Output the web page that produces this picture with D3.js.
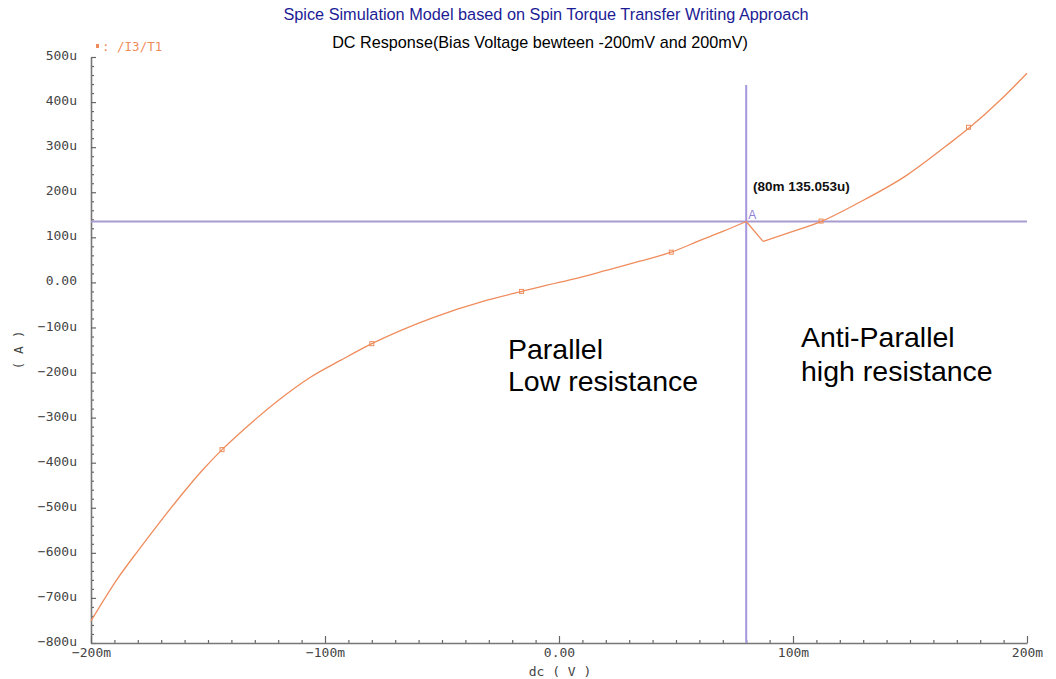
<!DOCTYPE html>
<html>
<head>
<meta charset="utf-8">
<script src="https://cdn.jsdelivr.net/npm/d3@7"></script>
<style>
  html, body { margin: 0; padding: 0; background: #fff; }
  svg { display: block; }
</style>
</head>
<body>
<svg id="chart" width="1056" height="679"></svg>
<script>
// ---- data ----
const voltage = [-0.200, -0.1885, -0.180, -0.1718, -0.1611, -0.1526, -0.144, -0.1342, -0.120, -0.1064, -0.093, -0.080, -0.0538, -0.0325, -0.0158, 0.000, 0.006, 0.0205, 0.0346, 0.0479, 0.0603, 0.070, 0.080, 0.0872, 0.0987, 0.1124, 0.1278, 0.1487, 0.1658, 0.1756, 0.1885, 0.200];
const currentU = [-751, -656, -596, -540, -470, -418, -371, -324, -262, -211, -172, -136, -78, -42, -20, 0, 7, 27, 47, 67, 93, 113, 135.053, 91, 111, 136, 176, 238, 304, 344, 404, 464];
const markerV = [-0.144, -0.080, -0.016, 0.048, 0.112, 0.175];
const markerIU = [-371, -136, -20, 67, 136, 344];
const yTicksU = [500, 400, 300, 200, 100, 0, -100, -200, -300, -400, -500, -600, -700, -800];
const yTickLabels = ["500u", "400u", "300u", "200u", "100u", "0.00", "\u2212100u", "\u2212200u", "\u2212300u", "\u2212400u", "\u2212500u", "\u2212600u", "\u2212700u", "\u2212800u"];
const xTicks = [-0.2, -0.1, 0, 0.1, 0.2];
const xTickLabels = ["\u2212200m", "\u2212100m", "0.00", "100m", "200m"];
const cursorV = 0.080, cursorIU = 135.053;
const cursorLabel = "(80m 135.053u)";
const title = "Spice Simulation Model based on Spin Torque Transfer Writing Approach";
const subtitle = "DC Response(Bias Voltage bewteen -200mV and 200mV)";
const legendLabel = "/I3/T1";

// ---- layout ----
const svg = d3.select("#chart");
const x = d3.scaleLinear().domain([-0.2, 0.2]).range([91, 1027]);
const y = d3.scaleLinear().domain([-800, 500]).range([643, 57]);
const monoFont = "'DejaVu Sans Mono', monospace";
const sansFont = "'Liberation Sans', Arial, sans-serif";
const curveColor = "#ef8c5c";

// titles
svg.append("text").attr("x", 546).attr("y", 20).attr("text-anchor", "middle")
  .attr("font-family", sansFont).attr("font-size", 16.3).attr("fill", "#1c1c96").text(title);
svg.append("text").attr("x", 540).attr("y", 48).attr("text-anchor", "middle")
  .attr("font-family", sansFont).attr("font-size", 16.2).attr("fill", "#000").text(subtitle);

// legend
svg.append("rect").attr("x", 96).attr("y", 44).attr("width", 3).attr("height", 4).attr("fill", curveColor);
svg.append("text").attr("x", 102).attr("y", 51).attr("font-family", monoFont).attr("font-size", 12.5)
  .attr("fill", curveColor).text(": " + legendLabel);

// minor ticks
const yMinor = d3.range(-800, 501, 20).filter(v => v % 100 !== 0);
const xMinor = d3.range(-20, 21, 1).map(k => k / 100).filter((v, i) => (i % 10) !== 0);

const gyMinor = svg.append("g").attr("transform", "translate(91,0)")
  .call(d3.axisLeft(y).tickValues(yMinor).tickSizeInner(-3).tickSizeOuter(0).tickFormat(""));
gyMinor.select(".domain").remove();
const gxMinor = svg.append("g").attr("transform", "translate(0,643)")
  .call(d3.axisBottom(x).tickValues(xMinor).tickSizeInner(-3).tickSizeOuter(0).tickFormat(""));
gxMinor.select(".domain").remove();

// major axes
const gy = svg.append("g").attr("transform", "translate(91,0)")
  .call(d3.axisLeft(y).tickValues(yTicksU).tickSizeInner(-5).tickSizeOuter(0).tickPadding(14)
    .tickFormat((d, i) => yTickLabels[i]));
const gx = svg.append("g").attr("transform", "translate(0,643)")
  .call(d3.axisBottom(x).tickValues(xTicks).tickSizeInner(-7).tickSizeOuter(0).tickPadding(5)
    .tickFormat((d, i) => xTickLabels[i]));

[gy, gx, gyMinor, gxMinor].forEach(g => {
  g.selectAll("line").attr("stroke", "#666").attr("stroke-width", 1.2);
  g.selectAll(".domain").attr("stroke", "#777").attr("stroke-width", 1.6);
  g.selectAll("text").attr("font-family", monoFont).attr("font-size", 13).attr("fill", "#444");
});
gy.selectAll("text").attr("dy", "0.2em");

// axis titles
svg.append("text").attr("transform", "translate(23,350) rotate(-90)").attr("text-anchor", "middle")
  .attr("font-family", monoFont).attr("font-size", 13).attr("fill", "#444").text("( A )");
svg.append("text").attr("x", 560).attr("y", 676).attr("text-anchor", "middle")
  .attr("font-family", monoFont).attr("font-size", 13).attr("fill", "#444").text("dc ( V )");

// cursor lines
const cursorColor = "#a797dc";
svg.append("line").attr("x1", x(-0.2)).attr("x2", x(0.2)).attr("y1", y(cursorIU)).attr("y2", y(cursorIU))
  .attr("stroke", "#a99bcf").attr("stroke-width", 2);
svg.append("line").attr("x1", x(cursorV)).attr("x2", x(cursorV)).attr("y1", 85).attr("y2", y(-800))
  .attr("stroke", cursorColor).attr("stroke-width", 2);

// curve: smooth branches, sharp switching transition
const pts = voltage.map((v, i) => [v, currentU[i]]);
const iA = voltage.indexOf(cursorV);
const segments = [
  { d: pts.slice(0, iA + 1), c: d3.curveMonotoneX },
  { d: pts.slice(iA, iA + 2), c: d3.curveLinear },
  { d: pts.slice(iA + 1), c: d3.curveMonotoneX }
];
segments.forEach(s => {
  svg.append("path").datum(s.d)
    .attr("d", d3.line().x(d => x(d[0])).y(d => y(d[1])).curve(s.c))
    .attr("fill", "none").attr("stroke", curveColor).attr("stroke-width", 1.3)
    .attr("stroke-linejoin", "miter");
});

// markers
svg.selectAll("rect.mk").data(markerV).enter().append("rect").attr("class", "mk")
  .attr("x", d => x(d) - 2).attr("y", (d, i) => y(markerIU[i]) - 2)
  .attr("width", 4).attr("height", 4).attr("fill", "none")
  .attr("stroke", curveColor).attr("stroke-width", 1);

// cursor annotation
svg.append("text").attr("x", x(cursorV) + 2).attr("y", y(cursorIU) - 3)
  .attr("font-family", sansFont).attr("font-size", 12).attr("fill", "#8f7fd6").text("A");
svg.append("text").attr("x", 753).attr("y", 191)
  .attr("font-family", sansFont).attr("font-size", 13.5).attr("font-weight", "bold").attr("fill", "#111").text(cursorLabel);

// region annotations
const ann = [
  { x: 508, y: 359, t: "Parallel" }, { x: 508, y: 391, t: "Low resistance" },
  { x: 801, y: 347, t: "Anti-Parallel" }, { x: 801, y: 381, t: "high resistance" }
];
svg.selectAll("text.ann").data(ann).enter().append("text").attr("class", "ann")
  .attr("x", d => d.x).attr("y", d => d.y).attr("font-family", sansFont)
  .attr("font-size", 28.5).attr("fill", "#000").text(d => d.t);
</script>
</body>
</html>
